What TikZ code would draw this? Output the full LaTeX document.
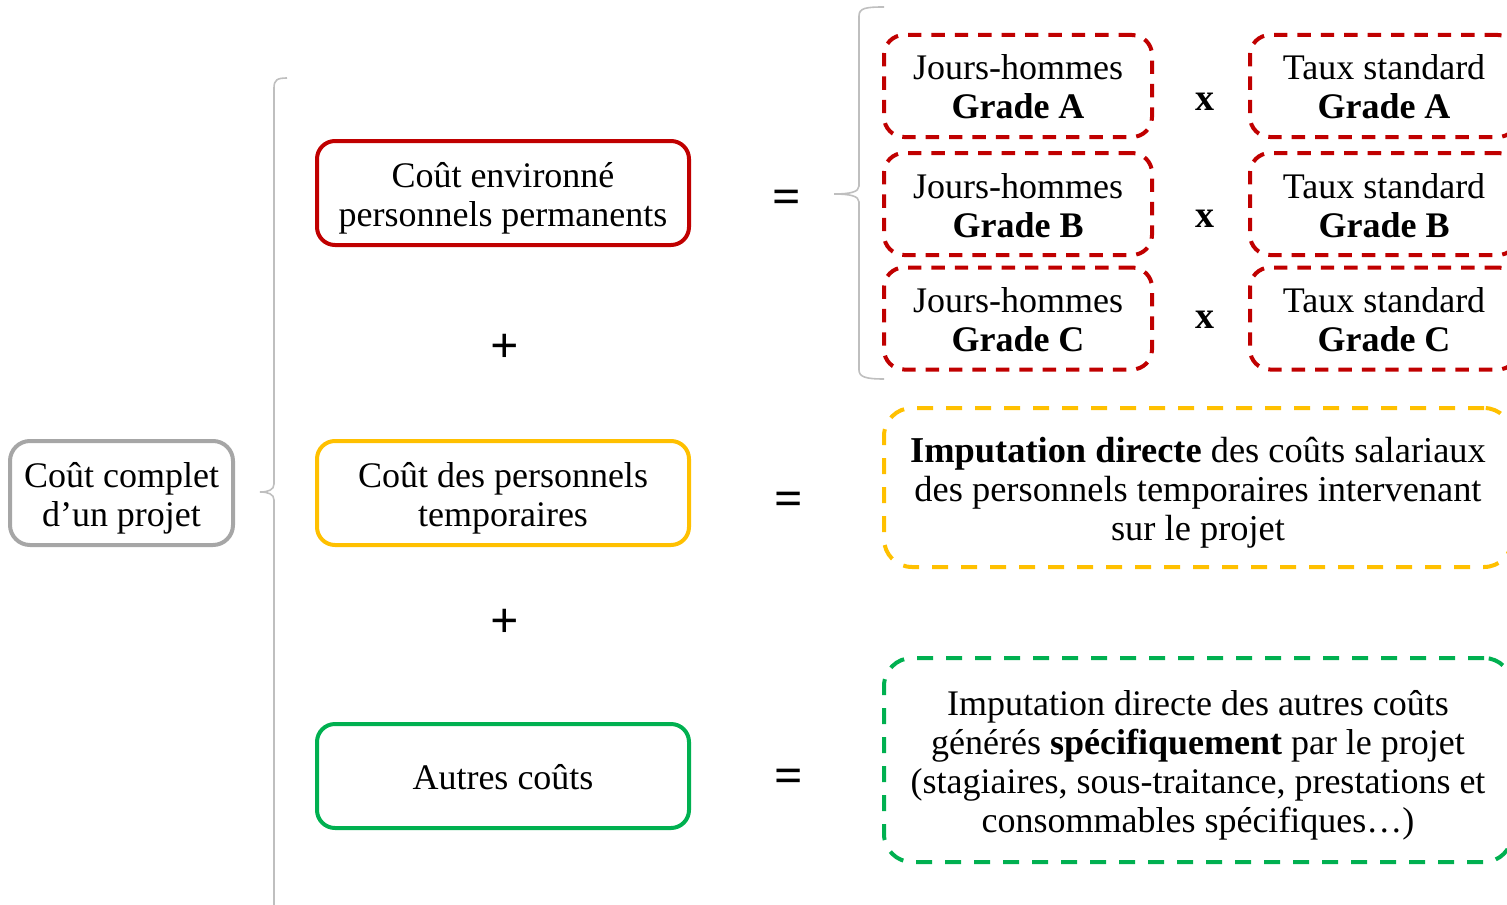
\documentclass[tikz,border=0pt]{standalone}
\usepackage{fontspec}
\setmainfont{Liberation Serif}
\usetikzlibrary{positioning, calc}

\definecolor{cRed}{HTML}{C00000}
\definecolor{cOrange}{HTML}{FFC000}
\definecolor{cGreen}{HTML}{00B050}
\definecolor{cGray}{HTML}{A6A6A6}
\definecolor{cBrace}{HTML}{BFBFBF}

\begin{document}
\begin{tikzpicture}[
    x=0.5pt, y=-0.5pt,
    base/.style={rectangle, draw, align=center, line width=2pt, inner sep=0pt, text depth=5pt, font=\fontsize{18}{19.5}\selectfont},
    one/.style={text height=18pt},
    two/.style={text height=38pt},
    three/.style={text height=58pt},
    four/.style={text height=77.5pt},
    total/.style={base, two, draw=cGray, rounded corners=10pt, minimum width=111.5pt, minimum height=52pt},
    part/.style={base, rounded corners=9pt, minimum width=186pt, minimum height=52pt},
    grade/.style={base, two, draw=cRed, dash pattern=on 6.7pt off 5pt, rounded corners=10pt, minimum width=134pt, minimum height=51pt},
    detail/.style={base, dash pattern=on 8pt off 6.5pt, rounded corners=14pt, minimum width=314pt},
    op/.style={inner sep=0pt, text height=16pt, text depth=0pt, font=\bfseries\fontsize{25}{25}\selectfont},
    times/.style={inner sep=0pt, text height=10.5pt, text depth=0pt, font=\bfseries\fontsize{19}{19}\selectfont},
    brace/.style={draw=cBrace, line width=0.8pt}
]
    \useasboundingbox (0,0) rectangle (1507,904);

    % --- TOTAL ---
    \node (total) [total] at (121.5,493) {Coût complet\\d’un projet};

    % --- PARTS ---
    \node (perm) [part, two, draw=cRed] at (503,193) {Coût environné\\personnels permanents};
    \node (temp) [part, two, draw=cOrange] at (503,493) {Coût des personnels\\temporaires};
    \node (autres) [part, one, draw=cGreen] at (503,776) {Autres coûts};

    \node (plus1) [op] at (505,346) {+};
    \node (plus2) [op] at (505,621) {+};

    % --- GRADES ---
    \node (jhA) [grade] at (1018,86) {Jours-hommes\\\textbf{Grade A}};
    \node (jhB) [grade] at (1018,204) {Jours-hommes\\\textbf{Grade B}};
    \node (jhC) [grade] at (1018,318.5) {Jours-hommes\\\textbf{Grade C}};
    \node (tsA) [grade, right=47pt of jhA] {Taux standard\\\textbf{Grade A}};
    \node (tsB) [grade, right=47pt of jhB] {Taux standard\\\textbf{Grade B}};
    \node (tsC) [grade, right=47pt of jhC] {Taux standard\\\textbf{Grade C}};

    \node (xA) [times] at (1205,100) {x};
    \node (xB) [times] at (1205,217) {x};
    \node (xC) [times] at (1205,318) {x};

    % --- DETAILS ---
    \node (impTemp) [detail, three, draw=cOrange, minimum height=79.5pt, font=\fontsize{18.2}{19.5}\selectfont] at (1198,487.5)
        {\textbf{Imputation directe} des coûts salariaux\\des personnels temporaires intervenant\\sur le projet};
    \node (impAutres) [detail, four, draw=cGreen, minimum height=102pt] at (1198,760)
        {Imputation directe des autres coûts\\générés \textbf{spécifiquement} par le projet\\(stagiaires, sous-traitance, prestations et\\consommables spécifiques…)};

    \node (eq1) [op] at (787,197) {=};
    \node (eq2) [op] at (789,499) {=};
    \node (eq3) [op] at (789,776) {=};

    % --- BRACES ---
    \draw [brace] (287,78) .. controls (277,78) and (274,80) .. (274,88)
        -- (274,484) .. controls (274,490) and (268,492) .. (260,492)
        .. controls (268,492) and (274,494) .. (274,500) -- (274,910);
    \draw [brace] (884,7) .. controls (866,7) and (859,8) .. (859,16)
        -- (859,186) .. controls (859,192) and (850,194) .. (834,194)
        .. controls (850,194) and (859,196) .. (859,202)
        -- (859,370) .. controls (859,377) and (866,379) .. (884,379);
\end{tikzpicture}
\end{document}
